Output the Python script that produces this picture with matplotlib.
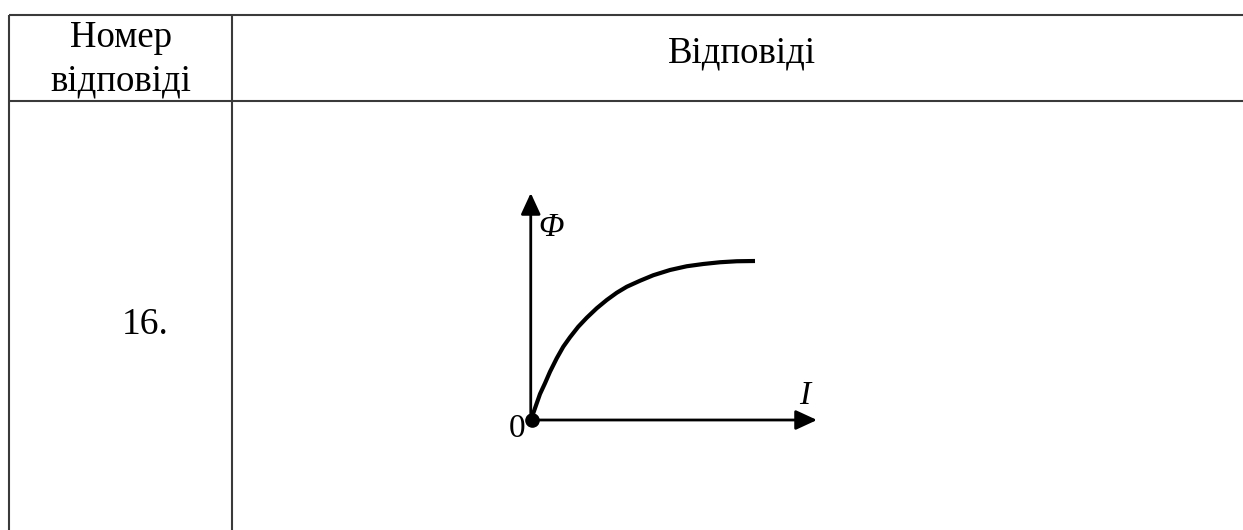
import matplotlib.pyplot as plt

# header / table texts
col_header = ['Номер', 'відповіді']
answer_header = 'Відповіді'
answer_number = '16.'

# curve Phi(I) (arbitrary units)
current = [0.0, 0.05, 0.19, 0.32, 0.52, 0.72, 0.99, 1.25, 1.52, 1.85, 2.19, 2.59, 2.99,
           3.39, 3.79, 4.32, 4.85, 5.52, 6.19, 6.85, 7.52, 8.19, 8.92]
flux = [0.0, 0.27, 0.67, 1.04, 1.47, 1.93, 2.47, 2.93, 3.31, 3.73, 4.09, 4.47, 4.8,
        5.09, 5.33, 5.57, 5.79, 6.0, 6.15, 6.24, 6.31, 6.35, 6.36]
i_max = 11.4
phi_max = 9.08

W, H = 1243, 530
fig = plt.figure(figsize=(W / 100, H / 100), dpi=100)
fig.patch.set_facecolor('white')

# page axes in pixel units for the table
page = fig.add_axes([0, 0, 1, 1])
page.set_xlim(0, W)
page.set_ylim(H, 0)
page.axis('off')

line_kw = dict(color='#3a3a3a', lw=1.5, solid_capstyle='butt')
page.plot([9.5, W], [14.5, 14.5], **line_kw)
page.plot([9.5, W], [101, 101], **line_kw)
page.plot([9.5, 9.5], [14.5, H], **line_kw)
page.plot([232, 232], [14.5, H], **line_kw)

serif = ['Liberation Serif', 'DejaVu Serif']
page.text(121, 47, col_header[0], family=serif, fontsize=26.5, ha='center', va='baseline')
page.text(121, 91, col_header[1], family=serif, fontsize=26.5, ha='center', va='baseline')
page.text(742, 63, answer_header, family=serif, fontsize=26.5, ha='center', va='baseline')
page.text(145, 334, answer_number, family=serif, fontsize=27, ha='center', va='baseline')

# the small Phi(I) graph
ox, oy = 532, 420
unit = 25.0
ax = fig.add_axes([ox / W, (H - oy) / H, i_max * unit / W, phi_max * unit / H])
ax.set_xlim(0, i_max)
ax.set_ylim(0, phi_max)
ax.axis('off')

arrow = dict(arrowstyle='-|>,head_length=1.3,head_width=0.6', mutation_scale=10,
             color='black', lw=2, shrinkA=0, shrinkB=0)
ax.annotate('', xy=(i_max, 0), xytext=(-0.05, 0), arrowprops=arrow, annotation_clip=False)
ax.annotate('', xy=(-0.05, phi_max), xytext=(-0.05, 0), arrowprops=arrow, annotation_clip=False)

ax.plot(current, flux, color='black', lw=3, solid_capstyle='butt',
        solid_joinstyle='round', clip_on=False)
ax.plot([0], [0], 'o', color='black', ms=9.5, clip_on=False)

ax.text(0.25, 7.7, 'Φ', family=serif, style='italic', fontsize=24, ha='left', va='center')
ax.text(10.9, 0.95, 'I', family=serif, style='italic', fontsize=24, ha='center', va='center')
ax.text(-0.6, -0.35, '0', family=serif, fontsize=24, ha='center', va='center')

fig.savefig('out.png', dpi=100, facecolor='white')
